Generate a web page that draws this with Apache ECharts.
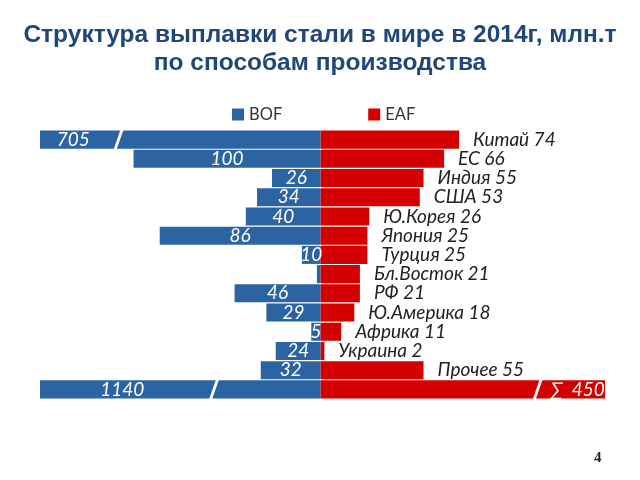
<!DOCTYPE html>
<html><head><meta charset="utf-8">
<script src="https://cdn.jsdelivr.net/npm/echarts@6/dist/echarts.min.js"></script>
<style>html,body{margin:0;padding:0;background:#fff}#c{width:640px;height:480px}</style>
</head><body><div id="c"></div>
<script>
const categories = ['Китай','ЕС','Индия','США','Ю.Корея','Япония','Турция','Бл.Восток','РФ','Ю.Америка','Африка','Украина','Прочее','∑'];
const bofValues = [705,100,26,34,40,86,10,2,46,29,5,24,32,1140];
const bofLabels = ['705','100','26','34','40','86','10','','46','29','5','24','32','1140'];
const eafValues = [74,66,55,53,26,25,25,21,21,18,11,2,55,450];
const eafLabels = ['Китай 74','ЕС 66','Индия 55','США 53','Ю.Корея 26','Япония 25','Турция 25','Бл.Восток 21','РФ 21','Ю.Америка 18','Африка 11','Украина 2','Прочее 55','∑  450'];
// axis limits (bars longer than these are drawn broken)
const bofCap = 150, eafCap = 152;
// where the break slash is drawn on broken bars (value units)
const breakMarks = [[-108, 0], [-57, 13], [116, 13]];

const BLUE = '#2C64A3', RED = '#D40000';
const font = 'Lato';

const bofData = bofValues.map((v, i) => {
  const broken = v > bofCap;
  const item = { value: -Math.min(v, bofCap) };
  const lab = { show: bofLabels[i] !== '', formatter: bofLabels[i] };
  if (broken) { lab.offset = [i === 0 ? -107 : -58, 0]; }
  item.label = lab;
  return item;
});
const eafData = eafValues.map((v, i) => {
  const broken = v > eafCap;
  const item = { value: Math.min(v, eafCap) };
  if (broken) {
    item.label = { position: 'inside', offset: [115, 0], color: '#fff', formatter: eafLabels[i] };
  } else {
    item.label = { formatter: eafLabels[i] };
  }
  return item;
});

const chart = echarts.init(document.getElementById('c'));
chart.setOption({
  animation: false,
  title: {
    text: 'Структура выплавки стали в мире в 2014г, млн.т\nпо способам производства',
    left: 'center', top: 16,
    textStyle: { fontFamily: 'Liberation Sans', fontWeight: 'bold', fontSize: 24.5, color: '#21467A', lineHeight: 28 }
  },
  legend: {
    data: ['BOF', 'EAF'], top: 101, left: 227, itemGap: 86,
    itemWidth: 12, itemHeight: 12, icon: 'rect',
    textStyle: { fontFamily: font, fontSize: 16.5, color: '#333' }
  },
  grid: { left: 40, right: 35, top: 130, bottom: 81 },
  xAxis: { type: 'value', min: -bofCap, max: eafCap, show: false },
  yAxis: { type: 'category', data: categories, inverse: true, show: false },
  series: [
    {
      name: 'BOF', type: 'bar', data: bofData, barGap: '-100%', barCategoryGap: '6%',
      itemStyle: { color: BLUE },
      label: { show: true, position: 'inside', color: '#fff', fontFamily: font, fontStyle: 'italic', fontSize: 19 }
    },
    {
      name: 'EAF', type: 'bar', data: eafData, barGap: '-100%', barCategoryGap: '6%',
      itemStyle: { color: RED },
      label: { show: true, position: 'right', distance: 14, color: '#222', fontFamily: font, fontStyle: 'italic', fontSize: 19 }
    },
    {
      type: 'scatter', data: breakMarks, z: 5, silent: true,
      symbol: 'path://M7,0 L10,0 L3,20 L0,20 Z', symbolSize: [10, 20],
      itemStyle: { color: '#fff', opacity: 1 }
    }
  ],
  graphic: [{
    type: 'text', left: 594, top: 451,
    style: { text: '4', fontFamily: 'Liberation Serif', fontWeight: 'bold', fontSize: 15, fill: '#222' }
  }]
});
</script></body></html>
